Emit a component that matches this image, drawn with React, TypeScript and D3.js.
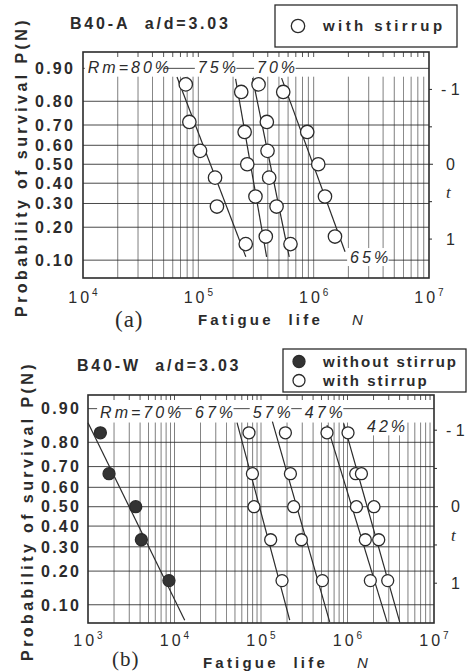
import React from "react";
import * as d3 from "d3";

// probability of survival ticks (left axis) and t ticks (right axis)
const probTicks = [0.9, 0.8, 0.7, 0.6, 0.5, 0.4, 0.3, 0.2, 0.1];
const probLabels = ["0.90", "0.80", "0.70", "0.60", "0.50", "0.40", "0.30", "0.20", "0.10"];
const tTicks = [-1, -0.5, 0, 0.5, 1];
const tLabels = ["- 1", "0", "1"];
const tLabelValues = [-1, 0, 1];

// plotting positions
const ranks6 = [0.857, 0.714, 0.571, 0.429, 0.286, 0.143];
const ranks5 = [0.833, 0.667, 0.5, 0.333, 0.167];

// (a) B40-A, with stirrup
const lifeA80 = [77800, 83600, 103500, 139600, 145000, 257600];
const lifeA75 = [235500, 252000, 265600, 312800, 384500];
const lifeA70 = [332700, 392600, 398000, 411300, 476600, 629600];
const lifeA65 = [544500, 879000, 1096000, 1253000, 1530000];
const fitA80 = [[65300, 0.878], [258200, 0.108]];
const fitA75 = [[210400, 0.873], [390800, 0.108]];
const fitA70 = [[295100, 0.875], [613800, 0.108]];
const fitA65 = [[527200, 0.875], [1871000, 0.121]];

// (b) B40-W
const lifeB70 = [1390, 1750, 3560, 4140, 8630]; // without stirrup
const lifeB67 = [72600, 79600, 83000, 129400, 175000];
const lifeB57 = [191400, 218800, 238800, 293000, 512600];
const lifeB47 = [579400, 1245000, 1268000, 1607000, 1837000];
const lifeB42 = [1014000, 1449000, 2023000, 2296000, 2917000];
const fitB70 = [[1000, 0.864], [13120, 0.069]];
const fitB67 = [[52840, 0.864], [214800, 0.069]];
const fitB57 = [[135500, 0.867], [622300, 0.066]];
const fitB47 = [[579400, 0.857], [2864000, 0.066]];
const fitB42 = [[903600, 0.862], [4009000, 0.066]];

// inverse standard normal CDF (Acklam)
function invNorm(p: number): number {
  const a = [-39.69683028665376, 220.9460984245205, -275.9285104469687, 138.357751867269, -30.66479806614716, 2.506628277459239];
  const b = [-54.47609879822406, 161.5858368580409, -155.6989798598866, 66.80131188771972, -13.28068155288572];
  const c = [-0.007784894002430293, -0.3223964580411365, -2.400758277161838, -2.549732539343734, 4.374664141464968, 2.938163982698783];
  const d = [0.007784695709041462, 0.3224671290700398, 2.445134137142996, 3.754408661907416];
  const plow = 0.02425;
  if (p < plow) {
    const q = Math.sqrt(-2 * Math.log(p));
    return (((((c[0] * q + c[1]) * q + c[2]) * q + c[3]) * q + c[4]) * q + c[5]) / ((((d[0] * q + d[1]) * q + d[2]) * q + d[3]) * q + 1);
  }
  if (p > 1 - plow) {
    const q = Math.sqrt(-2 * Math.log(1 - p));
    return -(((((c[0] * q + c[1]) * q + c[2]) * q + c[3]) * q + c[4]) * q + c[5]) / ((((d[0] * q + d[1]) * q + d[2]) * q + d[3]) * q + 1);
  }
  const q = p - 0.5;
  const r = q * q;
  return ((((((a[0] * r + a[1]) * r + a[2]) * r + a[3]) * r + a[4]) * r + a[5]) * q) / (((((b[0] * r + b[1]) * r + b[2]) * r + b[3]) * r + b[4]) * r + 1);
}
const tOf = (p: number) => -invNorm(p);

const INK = "#2b2b2b";
const SANS = "'Liberation Sans', Arial, sans-serif";

function Panel(props: any) {
  const { x, y, gridTopT, series, fits, labels, title, letter, r, yLabelX, legend, bottom } = props;
  const [x0, x1] = x.range();
  const [yTop, yBot] = y.range();
  const minors = x.ticks().filter((v: number) => x(v) > x0 + 0.5 && x(v) < x1 - 0.5);
  const decades = x.ticks().filter((v: number) => Math.abs(Math.log10(v) - Math.round(Math.log10(v))) < 1e-9);
  const line = d3.line<number[]>().x((d) => x(d[0])).y((d) => y(tOf(d[1])));
  const midY = (yTop + yBot) / 2;

  return (
    <g>
      {/* horizontal grid */}
      {probTicks.map((p) => (
        <line key={"h" + p} x1={x0} x2={x1} y1={y(tOf(p))} y2={y(tOf(p))} stroke={INK} strokeWidth={1} opacity={0.85} />
      ))}
      {/* vertical grid */}
      {minors.map((v: number) => (
        <line key={"v" + v} x1={x(v)} x2={x(v)} y1={y(gridTopT)} y2={yBot} stroke={INK} strokeWidth={0.8} opacity={0.75} />
      ))}
      {minors.map((v: number) => (
        <line key={"tt" + v} x1={x(v)} x2={x(v)} y1={yTop} y2={yTop + 5} stroke={INK} strokeWidth={0.8} />
      ))}
      {/* right t ticks */}
      {tTicks.map((t) => (
        <line key={"t" + t} x1={x1} x2={x1 + (t === 0 ? 4 : 3)} y1={y(t)} y2={y(t)} stroke={INK} strokeWidth={1} />
      ))}
      {/* labels */}
      {labels.map((l: any) => (
        <g key={l.text}>
          <rect x={x(l.n) - 3} y={y(l.t) - 9} width={l.text.length * 12.5 + 4} height={18} fill="#fff" />
          <text x={x(l.n)} y={y(l.t)} dy="0.36em" fontFamily={SANS} fontStyle="italic" fontSize={16} letterSpacing={3} fill={INK}>
            {l.text}
          </text>
        </g>
      ))}
      {/* fitted lines */}
      {fits.map((f: number[][], i: number) => (
        <path key={"f" + i} d={line(f) as string} fill="none" stroke={INK} strokeWidth={1.2} />
      ))}
      {/* points */}
      {series.map((s: any, i: number) =>
        s.life.map((n: number, j: number) => (
          <circle key={i + "-" + j} cx={x(n)} cy={y(tOf(s.prob[j]))} r={r} fill={s.filled ? "#333" : "#fff"} stroke={INK} strokeWidth={1.3} />
        ))
      )}
      {/* frame */}
      <rect x={x0} y={yTop} width={x1 - x0} height={yBot - yTop} fill="none" stroke={INK} strokeWidth={1.6} />
      {/* y tick labels */}
      {probTicks.map((p, i) => (
        <text key={"yl" + p} x={yLabelX} y={y(tOf(p))} dy="0.36em" textAnchor="end" fontFamily={SANS} fontWeight="bold" fontSize={16} letterSpacing={2.2} fill={INK}>
          {probLabels[i]}
        </text>
      ))}
      {/* right t labels */}
      {tLabelValues.map((t, i) => (
        <text key={"tl" + t} x={t < 0 ? x1 + 12 : x1 + 17} y={y(t)} dy="0.36em" fontFamily={SANS} fontSize={16} fill={INK}>
          {tLabels[i]}
        </text>
      ))}
      <text x={x1 + 17} y={y(0.37)} dy="0.36em" fontFamily="'Liberation Serif', serif" fontStyle="italic" fontSize={17} fill={INK}>
        t
      </text>
      {/* x tick labels */}
      {decades.map((v: number) => (
        <text key={"xl" + v} x={x(v)} y={yBot + bottom.tick} textAnchor="middle" fontFamily={SANS} fontSize={16} fill={INK}>
          <tspan letterSpacing={3}>10</tspan>
          <tspan dy={-7} fontSize={10}>{Math.round(Math.log10(v))}</tspan>
        </text>
      ))}
      {/* axis titles */}
      <text x={bottom.letterX} y={yBot + bottom.letter} fontFamily="'Liberation Serif', serif" fontSize={bottom.letterSize} letterSpacing={1} fill={INK}>
        {letter}
      </text>
      <text x={bottom.titleX} y={yBot + bottom.title} fontFamily={SANS} fontWeight="bold" fontSize={15} letterSpacing={3.2} fill={INK}>
        Fatigue{"\u00a0\u00a0"}life
      </text>
      <text x={bottom.titleX + 154} y={yBot + bottom.title} fontFamily={SANS} fontStyle="italic" fontSize={15} fill={INK}>
        N
      </text>
      <text transform={`translate(${yLabelX - 54},${midY + 2}) rotate(-90)`} textAnchor="middle" dy="0.36em" fontFamily={SANS} fontWeight="bold" fontSize={16} letterSpacing={3.4} fill={INK}>
        Probability{"\u00a0"}of{"\u00a0"}survival{"\u00a0"}P(N)
      </text>
      <text x={title.x} y={title.y} fontFamily={SANS} fontWeight="bold" fontSize={16} letterSpacing={2.8} fill={INK}>
        {title.text}
      </text>
      {/* legend */}
      <rect x={legend.x} y={legend.y} width={legend.w} height={legend.h} fill="#fff" stroke={INK} strokeWidth={1.3} />
      {legend.items.map((it: any, i: number) => (
        <g key={it.text}>
          <circle cx={legend.x + legend.cx} cy={legend.y + legend.first + i * legend.step} r={r} fill={it.filled ? "#333" : "#fff"} stroke={INK} strokeWidth={1.3} />
          <text x={legend.x + legend.tx} y={legend.y + legend.first + i * legend.step} dy="0.36em" fontFamily={SANS} fontWeight="bold" fontSize={legend.size} letterSpacing={legend.ls} fill={INK}>
            {it.text}
          </text>
        </g>
      ))}
    </g>
  );
}

export default function App() {
  const xA = d3.scaleLog().domain([1e4, 1e7]).range([83, 429]);
  const yA = d3.scaleLinear().domain([-1.5, 1.52]).range([52, 278]);
  const xB = d3.scaleLog().domain([1e3, 1e7]).range([88, 434]);
  const yB = d3.scaleLinear().domain([-1.46, 1.52]).range([395, 623]);

  const seriesA = [
    { life: lifeA80, prob: ranks6 },
    { life: lifeA75, prob: ranks5 },
    { life: lifeA70, prob: ranks6 },
    { life: lifeA65, prob: ranks5 },
  ];
  const seriesB = [
    { life: lifeB70, prob: ranks5, filled: true },
    { life: lifeB67, prob: ranks5 },
    { life: lifeB57, prob: ranks5 },
    { life: lifeB47, prob: ranks5 },
    { life: lifeB42, prob: ranks5 },
  ];
  const labelsA = [
    { text: "Rm=80%", n: 11000, t: -1.3 },
    { text: "75%", n: 99000, t: -1.3 },
    { text: "70%", n: 323000, t: -1.3 },
    { text: "65%", n: 2070000, t: 1.24 },
  ];
  const labelsB = [
    { text: "Rm=70%", n: 1380, t: -1.24 },
    { text: "67%", n: 17260, t: -1.24 },
    { text: "57%", n: 80200, t: -1.24 },
    { text: "47%", n: 320600, t: -1.24 },
    { text: "42%", n: 1680000, t: -1.05 },
  ];

  return (
    <svg width={467} height={672} style={{ position: "absolute", left: 0, top: 0, background: "#fff" }}>
      <rect width={467} height={672} fill="#fff" />
      <Panel
        x={xA}
        y={yA}
        gridTopT={-1.17}
        series={seriesA}
        fits={[fitA80, fitA75, fitA70, fitA65]}
        labels={labelsA}
        title={{ text: "B40-A\u00a0\u00a0a/d=3.03", x: 70, y: 29 }}
        letter="(a)"
        r={6.7}
        yLabelX={75}
        bottom={{ tick: 25, letter: 49, letterX: 115, letterSize: 23, title: 47, titleX: 198 }}
        legend={{ x: 275, y: 5, w: 182, h: 42, first: 21, step: 0, cx: 23, tx: 48, size: 15, ls: 3.4, items: [{ text: "with stirrup" }] }}
      />
      <Panel
        x={xB}
        y={yB}
        gridTopT={-1.1}
        series={seriesB}
        fits={[fitB70, fitB67, fitB57, fitB47, fitB42]}
        labels={labelsB}
        title={{ text: "B40-W\u00a0\u00a0a/d=3.03", x: 77, y: 371 }}
        letter="(b)"
        r={6}
        yLabelX={81}
        bottom={{ tick: 23, letter: 43, letterX: 112, letterSize: 21, title: 45, titleX: 203 }}
        legend={{ x: 283, y: 349, w: 183, h: 43, first: 12.5, step: 19, cx: 16, tx: 40, size: 15, ls: 2, items: [{ text: "without stirrup", filled: true }, { text: "with stirrup" }] }}
      />
    </svg>
  );
}
